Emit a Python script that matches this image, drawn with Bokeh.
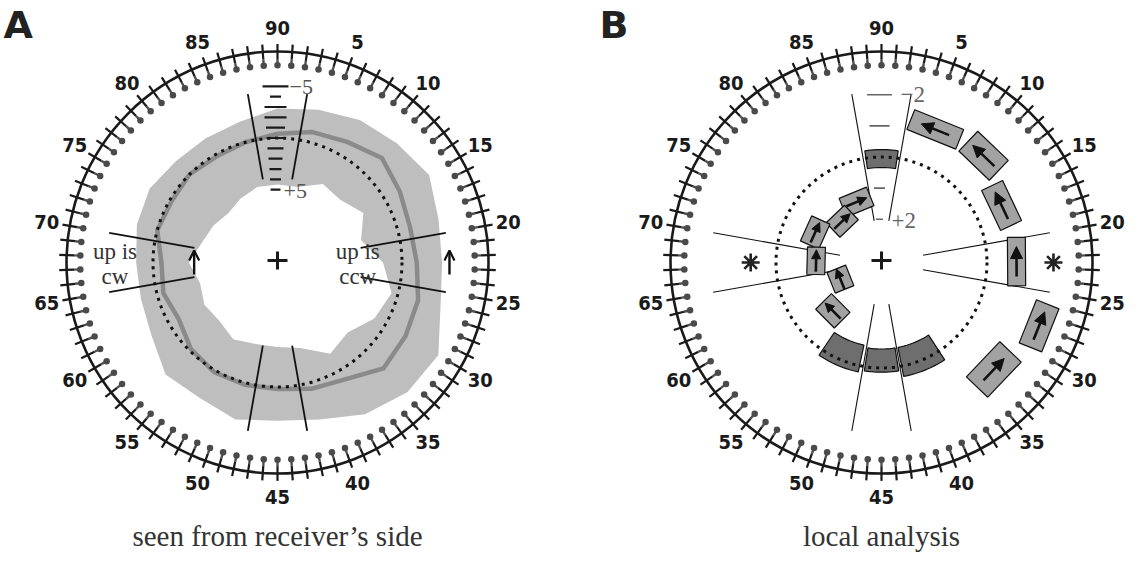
import numpy as np
from bokeh.plotting import figure
from bokeh.models import Range1d, Arrow, NormalHead, OpenHead, ColumnDataSource
from bokeh.core.properties import value
from bokeh.embed import file_html
from bokeh.resources import INLINE

# ---------------- data ----------------
tick_values = list(range(1, 91))                 # 90 orientation steps
label_values = [5, 10, 15, 20, 25, 30, 35, 40, 45, 50, 55, 60, 65, 70, 75, 80, 85, 90]

# panel A: response band (angle in deg clockwise from top, radius as fraction of ring)
band_angle = [0, 15, 30, 45, 60, 75, 90, 105, 120, 135, 150, 165,
              180, 195, 210, 225, 240, 255, 270, 285, 300, 315, 330, 345]
band_outer = [0.73, 0.75, 0.78, 0.80, 0.83, 0.79, 0.78, 0.80, 0.88, 0.87, 0.83, 0.77,
              0.75, 0.77, 0.74, 0.75, 0.69, 0.67, 0.67, 0.69, 0.70, 0.68, 0.68, 0.69]
band_inner = [0.37, 0.37, 0.43, 0.42, 0.47, 0.41, 0.50, 0.56, 0.53, 0.47, 0.50, 0.42,
              0.40, 0.40, 0.42, 0.39, 0.40, 0.38, 0.42, 0.37, 0.35, 0.33, 0.35, 0.37]
band_mean = [0.61, 0.64, 0.66, 0.70, 0.67, 0.65, 0.66, 0.69, 0.70, 0.71, 0.64, 0.62,
             0.60, 0.60, 0.60, 0.58, 0.54, 0.56, 0.55, 0.59, 0.58, 0.59, 0.58, 0.59]
ref_radius_A = 0.59
ladder_A_levels = [-5, -4, -3, -2, -1, 0, 1, 2, 3, 4, 5]
ladder_A_widths = [0.123, 0.052, 0.104, 0.104, 0.090, 0.085, 0.076, 0.066, 0.057, 0.052, 0.047]
sector_angles = [350, 10, 80, 100, 170, 190, 260, 280]

# panel B: local analysis
ref_radius_B = 0.50
ladder_B_levels = [-2, -1, 0, 1, 2]
ladder_B_widths = [0.118, 0.095, 0.076, 0.052, 0.033]
dark_angle = [0, 158, 180, 203]
dark_half = [8.5, 11, 9, 11]
dark_r0 = [0.45, 0.41, 0.41, 0.40]
dark_r1 = [0.535, 0.55, 0.52, 0.53]
outer_angle = [22.0, 43.7, 64.6, 89.6, 111.9, 133.6]
outer_r = [0.68, 0.70, 0.63, 0.64, 0.805, 0.735]
outer_len = [0.25, 0.20, 0.21, 0.23, 0.22, 0.23]
outer_thk = [0.10, 0.13, 0.11, 0.085, 0.115, 0.14]
inner_angle = [337.6, 316.4, 294.3, 271.5, 248.0, 225.2]
inner_r = [0.31, 0.27, 0.345, 0.31, 0.21, 0.325]
inner_len = [0.14, 0.12, 0.13, 0.13, 0.105, 0.125]
inner_thk = [0.095, 0.095, 0.095, 0.085, 0.095, 0.105]

# ---------------- figure ----------------
W, H = 1127, 554
p = figure(width=W, height=H, x_range=Range1d(8, 8 + W), y_range=Range1d(8 + H, 8),
           output_backend="svg", toolbar_location=None, min_border=0,
           x_axis_type=None, y_axis_type=None)
p.outline_line_color = None
p.grid.visible = False

R = 211.0
CA = (285.0, 270.0)
CB = (889.0, 270.0)
SERIF = value("Liberation Serif")


def pol(c, th, r):
    t = np.radians(np.asarray(th, dtype=float))
    r = np.asarray(r, dtype=float)
    return c[0] + r * R * np.sin(t), c[1] - r * R * np.cos(t)


def ring(c):
    th = np.array(tick_values) * 4.0
    n = len(th)
    x0, y0 = pol(c, th, np.full(n, 1.035))
    x1, y1 = pol(c, th, np.full(n, 0.965))
    x2, y2 = pol(c, th, np.full(n, 0.935))
    p.segment(x1, y1, x2, y2, line_color="#505050", line_width=2.4)
    p.segment(x0, y0, x1, y1, line_color="#1a1a1a", line_width=2.2)
    p.circle(x=[c[0]], y=[c[1]], radius=R, fill_color=None, line_color="#1a1a1a", line_width=2.6)
    p.scatter(x2, y2, size=6.5, fill_color="#4a4a4a", line_color=None)
    lt = np.array(label_values) * 4.0
    xl, yl = pol(c, lt, np.full(len(lt), 1.11))
    p.text(xl, yl, text=[str(v) for v in label_values], text_font=value("DejaVu Sans Condensed"),
           text_font_style="bold", text_font_size="20px", text_color="#1a1a1a",
           text_align="center", text_baseline="middle")


def plus(c):
    p.segment([c[0] - 10, c[0]], [c[1] - 2, c[1] - 11], [c[0] + 10, c[0]], [c[1] - 2, c[1] + 7],
              line_color="#1a1a1a", line_width=3)


def sectors(c, r0, r1, lw):
    n = len(sector_angles)
    x0, y0 = pol(c, sector_angles, np.full(n, r0))
    x1, y1 = pol(c, sector_angles, np.full(n, r1))
    p.segment(x0, y0, x1, y1, line_color="#111111", line_width=lw)


# ---------------- panel A ----------------
ox, oy = pol(CA, band_angle, band_outer)
ix, iy = pol(CA, band_angle, band_inner)
p.multi_polygons(xs=[[[list(ox), list(ix)]]], ys=[[[list(oy), list(iy)]]],
                 fill_color="#bebebe", line_color=None)
mx, my = pol(CA, band_angle + [band_angle[0]], band_mean + [band_mean[0]])
p.line(mx, my, line_color="#8a8a8a", line_width=4.5, line_join="round")
p.circle(x=[CA[0]], y=[CA[1]], radius=ref_radius_A * R, fill_color=None, line_color="#111111",
         line_width=3, line_dash="3 5")
sectors(CA, 0.40, 0.81, 1.8)

lr = ref_radius_A - 0.049 * np.array(ladder_A_levels)
lw_ = np.array(ladder_A_widths) * R
ly = CA[1] - lr * R
p.segment(CA[0] - 2 - lw_ / 2, ly, CA[0] - 2 + lw_ / 2, ly, line_color="#1a1a1a", line_width=2.2)
p.text([CA[0] + 12, CA[0] + 6], [ly[0] + 1, ly[-1] + 1], text=["\u22125", "+5"], text_font=SERIF,
       text_font_size="22px", text_color="#555555", text_align="left", text_baseline="middle")

tx, ty = pol(CA, [270, 90], [0.77, 0.38])
p.text([tx[0], tx[1]], [ty[0] - 11, ty[1] - 11], text=["up is", "up is"], text_font=SERIF,
       text_font_size="23px", text_color="#333333", text_align="center", text_baseline="middle")
p.text([tx[0], tx[1]], [ty[0] + 14, ty[1] + 14], text=["cw", "ccw"], text_font=SERIF,
       text_font_size="23px", text_color="#333333", text_align="center", text_baseline="middle")

ax, ay = pol(CA, [270, 90], [0.395, 0.815])
srcA = ColumnDataSource(dict(x0=list(ax), y0=list(ay + 12), x1=list(ax), y1=list(ay - 12)))
p.add_layout(Arrow(x_start="x0", y_start="y0", x_end="x1", y_end="y1", source=srcA,
                   line_width=2.4, line_color="#111111",
                   end=OpenHead(size=10, line_width=2.2, line_color="#111111")))
plus(CA)
ring(CA)

# ---------------- panel B ----------------
sectors(CB, 0.20, 0.81, 1.1)
br = ref_radius_B - 0.1475 * np.array(ladder_B_levels)
bw = np.array(ladder_B_widths) * R
by = CB[1] - br * R
p.segment(CB[0] - 2 - bw / 2, by, CB[0] - 2 + bw / 2, by, line_color="#666666", line_width=1.6)
p.text([CB[0] + 19, CB[0] + 10], [by[0], by[-1] + 1], text=["\u22122", "+2"], text_font=SERIF,
       text_font_size="23px", text_color="#666666", text_align="left", text_baseline="middle")

dxs, dys = [], []
for th, h, r0, r1 in zip(dark_angle, dark_half, dark_r0, dark_r1):
    a = np.linspace(th - h, th + h, 12)
    xo, yo = pol(CB, a, np.full(12, r1))
    xi, yi = pol(CB, a[::-1], np.full(12, r0))
    dxs.append(list(xo) + list(xi))
    dys.append(list(yo) + list(yi))
p.patches(dxs, dys, fill_color="#6e6e6e", line_color="#111111", line_width=1.2)

p.circle(x=[CB[0]], y=[CB[1]], radius=ref_radius_B * R, fill_color=None, line_color="#111111",
         line_width=3, line_dash="3 5")


def boxes(angles, radii, lens, thks, direction, alen, hsize):
    bxs, bys = [], []
    a0x, a0y, a1x, a1y = [], [], [], []
    for th, r, L, T in zip(angles, radii, lens, thks):
        t = np.radians(th)
        cx, cy = pol(CB, th, r)
        tv = np.array([np.cos(t), np.sin(t)])
        uv = np.array([np.sin(t), -np.cos(t)])
        hl, ht = L * R / 2, T * R / 2
        pts = [(cx, cy) + tv * hl + uv * ht, (cx, cy) + tv * hl - uv * ht,
               (cx, cy) - tv * hl - uv * ht, (cx, cy) - tv * hl + uv * ht]
        bxs.append([q[0] for q in pts])
        bys.append([q[1] for q in pts])
        d = tv * direction
        a0x.append(cx - d[0] * alen / 2)
        a0y.append(cy - d[1] * alen / 2)
        a1x.append(cx + d[0] * alen / 2)
        a1y.append(cy + d[1] * alen / 2)
    p.patches(bxs, bys, fill_color="#a2a2a2", line_color="#111111", line_width=1.2)
    src = ColumnDataSource(dict(x0=a0x, y0=a0y, x1=a1x, y1=a1y))
    p.add_layout(Arrow(x_start="x0", y_start="y0", x_end="x1", y_end="y1", source=src,
                       line_width=2.6, line_color="#111111",
                       end=NormalHead(size=hsize, fill_color="#111111", line_color="#111111")))


boxes(outer_angle, outer_r, outer_len, outer_thk, -1, 30, 12)
boxes(inner_angle, inner_r, inner_len, inner_thk, 1, 22, 9)

sx, sy = pol(CB, [270, 90], [0.62, 0.815])
p.scatter(sx, sy, marker="asterisk", size=18, line_color="#222222", line_width=2.6)
plus(CB)
ring(CB)

# ---------------- titles ----------------
p.text([CA[0], CB[0]], [543, 543], text=["seen from receiver\u2019s side", "local analysis"],
       text_font=SERIF, text_font_size="29px", text_color="#333333",
       text_align="center", text_baseline="middle")
p.text([11, 607], [32, 32], text=["A", "B"], text_font=value("DejaVu Sans"), text_font_style="bold",
       text_font_size="38px", text_color="#222222", text_align="left", text_baseline="middle")

open("out.html", "w").write(file_html(p, INLINE))
